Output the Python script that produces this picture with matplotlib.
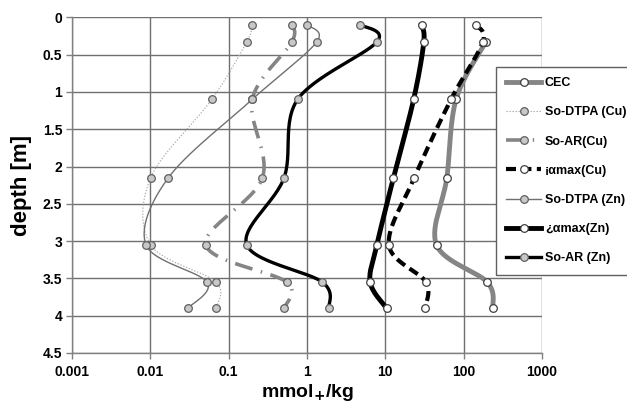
import numpy as np
import matplotlib
matplotlib.use("Agg")
import matplotlib.pyplot as plt
from matplotlib.lines import Line2D

plt.rcParams['font.family'] = ['Liberation Sans', 'DejaVu Sans']
plt.rcParams['font.weight'] = 'bold'

# ---- data ----
depth = [0.1, 0.33, 1.1, 2.15, 3.05, 3.55, 3.9]
cec_depth = [0.33, 1.1, 2.15, 3.05, 3.55, 3.9]
cec = [192, 80, 61, 45, 200, 236]
dtpa_cu = [0.2, 0.17, 0.061, 0.0101, 0.0101, 0.069, 0.069]
ar_cu = [0.64, 0.64, 0.2, 0.27, 0.051, 0.55, 0.51]
amax_cu = [143, 176, 69, 23.5, 11.1, 33, 32]
dtpa_zn = [1.0, 1.33, 0.2, 0.017, 0.0088, 0.053, 0.030]
amax_zn = [29, 31, 23, 12.7, 7.8, 6.4, 10.4]
ar_zn = [4.8, 7.8, 0.76, 0.51, 0.17, 1.57, 1.9]

labels = ["CEC", "So-DTPA (Cu)", "So-AR(Cu)", "\u00a1\u03b1max(Cu)",
          "So-DTPA (Zn)", "\u00bf\u03b1max(Zn)", "So-AR (Zn)"]
xticks = [0.001, 0.01, 0.1, 1, 10, 100, 1000]
xticklabels = ["0.001", "0.01", "0.1", "1", "10", "100", "1000"]
yticks = [0, 0.5, 1, 1.5, 2, 2.5, 3, 3.5, 4, 4.5]
yticklabels = ["0", "0.5", "1", "1.5", "2", "2.5", "3", "3.5", "4", "4.5"]

K = 74.6 / 78.3  # depth-to-decade pixel ratio


def smooth(xs, ys, n=30):
    u = np.log10(np.asarray(xs, float))
    v = np.asarray(ys, float) * K
    P = np.column_stack([u, v])
    E = np.vstack([P[0], P, P[-1]])
    out = []
    t = np.linspace(0, 1, n)[:, None]
    for i in range(len(P) - 1):
        p0, p1, p2, p3 = E[i], E[i + 1], E[i + 2], E[i + 3]
        c1 = p1 + (p2 - p0) / 6
        c2 = p2 - (p3 - p1) / 6
        seg = ((1 - t) ** 3) * p1 + 3 * ((1 - t) ** 2) * t * c1 + 3 * (1 - t) * t ** 2 * c2 + t ** 3 * p2
        out.append(seg if i == 0 else seg[1:])
    S = np.vstack(out)
    return 10 ** S[:, 0], S[:, 1] / K


fig = plt.figure(figsize=(6.27, 4.07), dpi=100)
ax = fig.add_axes([72 / 627, 1 - 353 / 407, (542 - 72) / 627, (353 - 17.3) / 407])

GRAYM = dict(marker='o', markersize=5.5, markerfacecolor='#c8c8c8', markeredgecolor='#606060', markeredgewidth=0.9)
WHITEM = dict(marker='o', markersize=5.5, markerfacecolor='white', markeredgecolor='#404040', markeredgewidth=0.9)

styles = [
    (cec, cec_depth, dict(color='#858585', lw=3.5, ls='-'), WHITEM),
    (dtpa_cu, depth, dict(color='#a8a8a8', lw=0.8, ls=(0, (1.2, 1.5))), GRAYM),
    (ar_cu, depth, dict(color='#858585', lw=2.6, ls=(0, (5.0, 2.4, 0.4, 2.4))), GRAYM),
    (amax_cu, depth, dict(color='black', lw=3.0, ls=(0, (2.4, 1.3))), WHITEM),
    (dtpa_zn, depth, dict(color='#707070', lw=1.0, ls='-'), GRAYM),
    (amax_zn, depth, dict(color='black', lw=3.5, ls='-'), WHITEM),
    (ar_zn, depth, dict(color='black', lw=2.4, ls='-'), GRAYM),
]

handles = []
for (xs, ys, ls, mk), lab in zip(styles, labels):
    sx, sy = smooth(xs, ys)
    ax.plot(sx, sy, color=ls['color'], lw=ls['lw'], linestyle=ls['ls'], zorder=3)
    ax.plot(xs, ys, linestyle='none', zorder=4, **mk)
    handles.append(Line2D([], [], color=ls['color'], lw=ls['lw'], linestyle=ls['ls'], **mk))

ax.set_xscale('log')
ax.set_xlim(0.001, 1000)
ax.set_ylim(4.5, 0)
ax.set_xticks(xticks)
ax.set_xticklabels(xticklabels)
ax.set_yticks(yticks)
ax.set_yticklabels(yticklabels)
ax.minorticks_off()
ax.tick_params(axis='both', labelsize=10, direction='out', length=4, width=1, color='#808080', pad=3)
ax.tick_params(axis='x', pad=5)
for lab in ax.get_xticklabels() + ax.get_yticklabels():
    lab.set_fontweight('bold')
ax.grid(True, color='#707070', lw=1)
ax.set_axisbelow(True)
for s in ['top', 'right']:
    ax.spines[s].set_visible(False)
for s in ['left', 'bottom']:
    ax.spines[s].set_color('#808080')
    ax.spines[s].set_linewidth(1)

ax.set_xlabel("mmol$_{\\mathbf{+}}$/kg", fontsize=14, fontweight='bold', labelpad=2)
ax.set_ylabel("depth [m]", fontsize=16, fontweight='bold', labelpad=8)

leg = fig.legend(handles, labels, loc='upper left', bbox_to_anchor=(496 / 627, 1 - 67 / 407),
                 frameon=True, fancybox=False, edgecolor='#606060', framealpha=1,
                 handlelength=2.8, handletextpad=0.3, labelspacing=1.38, borderpad=0.8,
                 borderaxespad=0, prop={'weight': 'bold', 'size': 9})
leg.get_frame().set_linewidth(1)

fig.savefig("out.png", dpi=100)
